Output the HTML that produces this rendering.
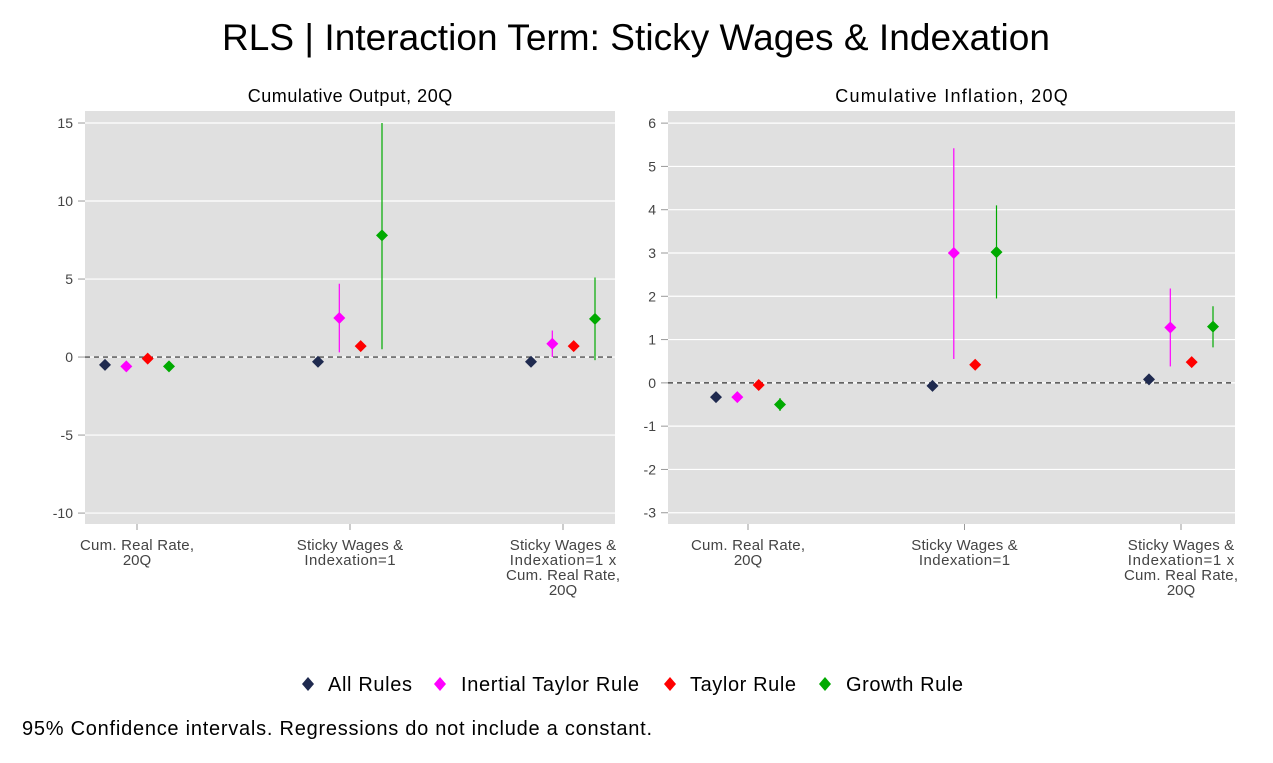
<!DOCTYPE html>
<html><head><meta charset="utf-8">
<style>
body{margin:0;background:#fff;font-family:"Liberation Sans",sans-serif;}
svg{display:block}
</style></head>
<body>
<svg id="chart" width="1273" height="763" xmlns="http://www.w3.org/2000/svg">
<text x="636" y="50" text-anchor="middle" font-size="37" textLength="828" fill="#000">RLS | Interaction Term: Sticky Wages &amp; Indexation</text>
<g id="p0"></g><g id="p1"></g>
<g font-size="20">
<g><path d="M308,677 L314,684 L308,691 L302,684Z" fill="#1f2a4f"/><text x="328" y="691" textLength="84">All Rules</text></g>
<g><path d="M440,677 L446,684 L440,691 L434,684Z" fill="#ff00ff"/><text x="461" y="691" textLength="178">Inertial Taylor Rule</text></g>
<g><path d="M670,677 L676,684 L670,691 L664,684Z" fill="#ff0000"/><text x="690" y="691" textLength="106">Taylor Rule</text></g>
<g><path d="M825,677 L831,684 L825,691 L819,684Z" fill="#00aa00"/><text x="846" y="691" textLength="117">Growth Rule</text></g>
</g>
<text x="22" y="735" font-size="20" textLength="630">95% Confidence intervals. Regressions do not include a constant.</text>
</svg>
<script>
const categories = [["Cum. Real Rate,","20Q"],["Sticky Wages &","Indexation=1"],["Sticky Wages &","Indexation=1 x","Cum. Real Rate,","20Q"]];
const seriesNames = ["All Rules","Inertial Taylor Rule","Taylor Rule","Growth Rule"];
const colors = ["#1f2a4f","#ff00ff","#ff0000","#00aa00"];
const outVals = [[-0.5,-0.6,-0.1,-0.6],[-0.3,2.5,0.7,7.8],[-0.3,0.85,0.7,2.45]];
const outLo = [[-0.5,-0.6,-0.1,-0.6],[-0.3,0.3,0.7,0.5],[-0.3,0.0,0.7,-0.2]];
const outHi = [[-0.5,-0.6,-0.1,-0.6],[-0.3,4.7,0.7,15.0],[-0.3,1.7,0.7,5.1]];
const outTicks = [-10,-5,0,5,10,15];
const infVals = [[-0.33,-0.33,-0.05,-0.5],[-0.07,3.0,0.42,3.02],[0.08,1.28,0.48,1.3]];
const infLo = [[-0.33,-0.33,-0.05,-0.65],[-0.07,0.55,0.42,1.95],[0.08,0.38,0.48,0.82]];
const infHi = [[-0.33,-0.33,-0.05,-0.35],[-0.07,5.42,0.42,4.1],[0.08,2.18,0.48,1.77]];
const infTicks = [-3,-2,-1,0,1,2,3,4,5,6];
const NS="http://www.w3.org/2000/svg";
function mk(p,tag,a){const e=document.createElementNS(NS,tag);for(const k in a)e.setAttribute(k,a[k]);p.appendChild(e);return e;}
function panel(g,cfg){
  const {x0,x1,y0,y1,ymin,ymax,vals,lo,hi,ticks,title,c0,c1,name}=cfg;
  const y=v=>y1-(v-ymin)/(ymax-ymin)*(y1-y0);
  const cx=i=>c0+i*(c1-c0)/2;
  const off=[-32,-10.7,10.7,32];
  const bg=mk(g,'rect',{x:x0,y:y0,width:x1-x0,height:y1-y0,fill:'#e0e0e0'});
  
  const t=mk(g,'text',{x:(x0+x1)/2,y:y0-9,'text-anchor':'middle','font-size':18,textLength:title.length*9.3});t.textContent=title;
  
  ticks.forEach(v=>{
    mk(g,'line',{x1:x0,x2:x1,y1:y(v),y2:y(v),stroke:'#fff','stroke-width':1.2});
    mk(g,'line',{x1:x0-7,x2:x0,y1:y(v),y2:y(v),stroke:'#999'});
    const l=mk(g,'text',{x:x0-12,y:y(v)+5,'text-anchor':'end','font-size':14,fill:'#444'});l.textContent=v;
    
  });
  mk(g,'line',{x1:x0,x2:x1,y1:y(0),y2:y(0),stroke:'#333','stroke-dasharray':'5,4','stroke-width':1.2});
  categories.forEach((lines,i)=>{
    mk(g,'line',{x1:cx(i),x2:cx(i),y1:y1,y2:y1+6,stroke:'#999'});
    lines.forEach((s,k)=>{
      const attrs={x:cx(i),y:y1+26+k*15,'text-anchor':'middle','font-size':15,fill:'#444'};
      if(s.length>5) attrs.textLength=s.length*7.6;
      const l=mk(g,'text',attrs);l.textContent=s;
      });
    seriesNames.forEach((s,j)=>{
      const px=cx(i)+off[j];
      const ci=mk(g,'line',{x1:px,x2:px,y1:y(lo[i][j]),y2:y(hi[i][j]),stroke:colors[j],'stroke-width':1.2});
      
      const py=y(vals[i][j]);
      const d=mk(g,'path',{d:`M${px},${py-6} L${px+6},${py} L${px},${py+6} L${px-6},${py}Z`,fill:colors[j]});
      
    });
  });
}
panel(document.getElementById('p0'),{x0:85,x1:615,y0:111,y1:524,ymin:-10.7,ymax:15.77,vals:outVals,lo:outLo,hi:outHi,ticks:outTicks,title:"Cumulative Output, 20Q",c0:137,c1:563,name:'output-panel'});
panel(document.getElementById('p1'),{x0:668,x1:1235,y0:111,y1:524,ymin:-3.26,ymax:6.28,vals:infVals,lo:infLo,hi:infHi,ticks:infTicks,title:"Cumulative Inflation, 20Q",c0:748,c1:1181,name:'inflation-panel'});
</script>
</body></html>
